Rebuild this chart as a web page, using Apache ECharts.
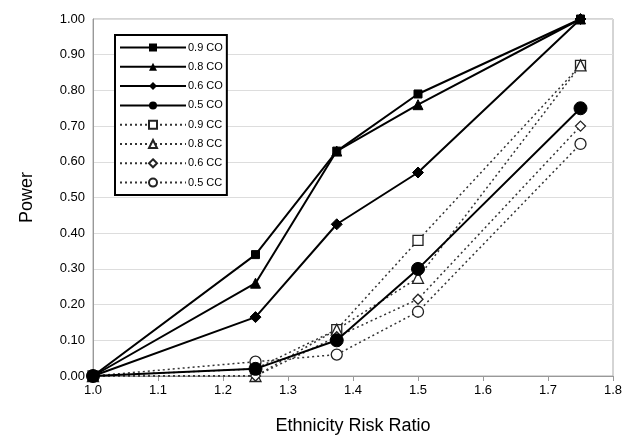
<!DOCTYPE html>
<html>
<head>
<meta charset="utf-8">
<script src="https://cdn.jsdelivr.net/npm/echarts@6/dist/echarts.min.js"></script>
<style>
  html, body { margin: 0; padding: 0; background: #fff; }
  #chart { width: 632px; height: 441px; }
</style>
</head>
<body>
<div id="chart"></div>
<script>
const riskRatios = [1.0, 1.25, 1.375, 1.5, 1.75]

const co09 = [0, 0.34, 0.63, 0.79, 1.00]
const co08 = [0, 0.26, 0.63, 0.76, 1.00]
const co06 = [0, 0.165, 0.425, 0.57, 1.00]
const co05 = [0, 0.02, 0.10, 0.30, 0.75]
const cc09 = [0, 0.02, 0.13, 0.38, 0.87]
const cc08 = [0, 0.00, 0.13, 0.275, 0.87]
const cc06 = [0, 0.00, 0.11, 0.215, 0.70]
const cc05 = [0, 0.04, 0.06, 0.18, 0.65]

const seriesNames = ['0.9 CO', '0.8 CO', '0.6 CO', '0.5 CO', '0.9 CC', '0.8 CC', '0.6 CC', '0.5 CC']

const chart = echarts.init(document.getElementById('chart'))

function pairs(values) {
  return riskRatios.map((x, i) => [x, values[i]])
}

function solid(name, values, symbol, size) {
  return {
    name,
    type: 'line',
    data: pairs(values),
    symbol,
    symbolSize: size,
    lineStyle: { color: '#000', width: 2 },
    itemStyle: { color: '#000', borderColor: '#000' },
    z: 3
  }
}

function dotted(name, values, symbol, size) {
  return {
    name,
    type: 'line',
    data: pairs(values),
    symbol,
    symbolSize: size,
    lineStyle: { color: '#333', width: 1.5, type: [2, 3] },
    itemStyle: { color: '#fff', borderColor: '#222', borderWidth: 1.3 },
    z: 2
  }
}

const option = {
  animation: false,
  backgroundColor: '#fff',
  textStyle: { fontFamily: 'Liberation Sans, Arial, sans-serif' },
  grid: {
    left: 93, right: 19, top: 19, bottom: 65,
    show: true, borderColor: '#aaa', borderWidth: 1
  },
  legend: {
    data: seriesNames,
    orient: 'vertical',
    left: 115, top: 35,
    itemWidth: 66, itemHeight: 10, itemGap: 8.3,
    padding: [7, 4, 7, 4],
    borderColor: '#000', borderWidth: 2,
    backgroundColor: '#fff',
    textStyle: { fontSize: 11, color: '#000', padding: [0, 0, 0, -3] }
  },
  xAxis: {
    type: 'value',
    min: 1.0, max: 1.8, interval: 0.1,
    name: 'Ethnicity Risk Ratio',
    nameLocation: 'middle', nameGap: 41,
    nameTextStyle: { fontSize: 18, color: '#000' },
    axisLine: { lineStyle: { color: '#999' } },
    axisTick: { show: true, length: 5, lineStyle: { color: '#999' } },
    splitLine: { show: false },
    axisLabel: { fontSize: 13, color: '#000', formatter: v => v.toFixed(1) }
  },
  yAxis: {
    type: 'value',
    min: 0, max: 1, interval: 0.1,
    name: 'Power',
    nameLocation: 'middle', nameGap: 57,
    nameTextStyle: { fontSize: 18, color: '#000' },
    axisLine: { show: true, lineStyle: { color: '#999' } },
    axisTick: { show: false },
    splitLine: { lineStyle: { color: '#ddd', width: 1 } },
    axisLabel: { fontSize: 13, color: '#000', formatter: v => v.toFixed(2) }
  },
  series: [
    solid('0.9 CO', co09, 'rect', 8),
    solid('0.8 CO', co08, 'triangle', 10),
    solid('0.6 CO', co06, 'diamond', 11),
    solid('0.5 CO', co05, 'circle', 13),
    dotted('0.9 CC', cc09, 'rect', 10),
    dotted('0.8 CC', cc08, 'triangle', 11),
    dotted('0.6 CC', cc06, 'diamond', 10),
    dotted('0.5 CC', cc05, 'circle', 11)
  ]
}

chart.setOption(option)
</script>
</body>
</html>
